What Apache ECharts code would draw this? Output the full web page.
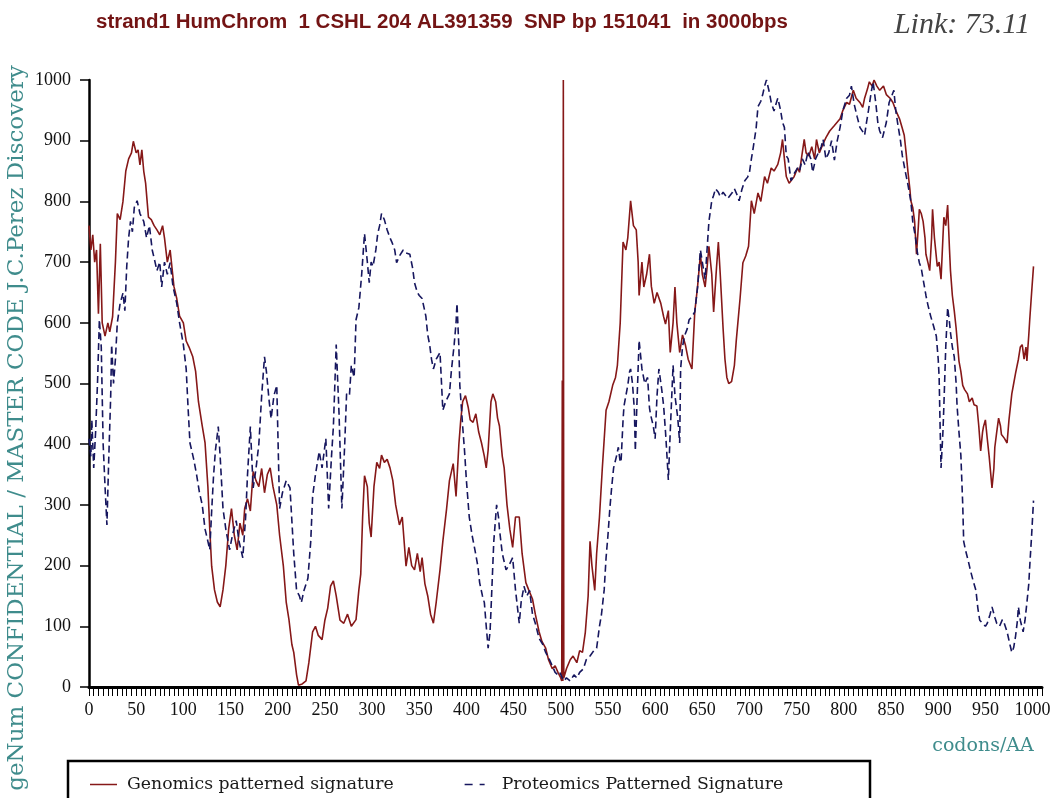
<!DOCTYPE html>
<html>
<head>
<meta charset="utf-8">
<script src="https://cdn.jsdelivr.net/npm/echarts@6/dist/echarts.min.js"></script>
<style>
  html, body { margin: 0; padding: 0; background: #ffffff; }
  #chart { width: 1058px; height: 798px; }
</style>
</head>
<body>
<div id="chart"></div>
<script>
// Codon positions and signature values for the genomic (solid) trace
const genomicsX = [0,2,4,6,8,10,12,14,17,20,22,25,28,30,33,36,39,42,45,47,50,52,54,56,58,60,63,66,69,72,75,78,80,83,86,90,93,96,100,103,106,110,113,116,120,123,126,128,130,133,136,139,142,145,148,151,154,157,160,163,165,168,171,174,177,180,183,186,189,192,195,199,202,206,209,212,215,217,220,222,226,230,233,237,240,243,247,250,253,256,259,262,266,270,274,278,283,286,288,290,292,295,297,299,302,305,308,310,313,316,319,322,325,329,332,336,339,342,345,348,351,353,356,359,362,365,368,372,375,379,382,386,389,392,394,396,399,402,404,407,410,413,416,419,421,423,426,428,431,433,435,438,440,443,446,449,452,456,459,463,466,470,473,477,480,484,487,491,494,497,500,501,501.6,502.2,502.7,503.2,506,510,513,517,520,523,526,529,531,533,536,538,541,544,548,551,555,558,560,563,566,569,571,574,577,580,582,583,586,588,591,594,596,599,602,606,609,611,614,616,619,621,623,626,629,632,635,639,642,645,648,650,653,655,657,660,662,665,667,669,672,674,676,678,681,684,686,690,693,696,699,702,705,709,712,716,719,723,726,730,733,735,737,739,742,744,747,751,753,755,758,760,763,766,769,771,774,778,781,785,790,796,799,803,806,810,813,817,820,822,825,827,830,832,835,838,842,845,849,852,855,859,862,864,866,868,870,871,873,875,877,879,880,882,884,886,887,889,891,893,894,896,899,901,903,905,906,908,910,912,913,915,917,919,922,924,926,928,931,933,936,938,941,943,945,947,948,950,952,954,957,959,960,962,964,966,967,970,973,975,978,980,982,985,987,989,991,993,994,996,997,999,1001];
const genomicsY = [760,720,745,700,720,615,730,600,578,600,585,610,700,780,770,800,850,870,880,899,880,885,860,885,850,830,774,770,760,753,745,760,740,700,720,660,640,611,600,570,560,544,520,470,430,402,330,260,199,160,140,132,160,200,260,294,250,226,270,250,294,310,290,355,340,330,360,320,350,361,330,300,250,199,140,110,70,57,20,3,5,10,40,91,100,85,78,110,130,166,175,150,110,105,120,100,111,160,186,280,348,330,270,247,330,370,360,382,370,375,361,340,300,267,280,199,230,200,193,220,190,213,170,150,120,105,140,193,240,294,340,368,314,400,440,470,480,460,440,436,450,420,402,380,361,390,470,483,470,443,430,380,361,300,260,230,280,280,220,172,160,145,120,91,75,64,45,30,35,24,15,10,505,10,1000,15,30,45,51,40,60,57,90,150,240,200,159,220,280,360,456,470,497,510,530,600,733,720,740,801,760,753,700,645,700,659,680,713,660,632,650,632,610,598,620,551,600,659,600,551,580,564,540,524,618,660,713,680,659,690,726,680,618,690,733,680,591,540,510,500,503,530,571,640,699,710,726,801,780,814,800,841,830,855,850,861,880,902,870,841,830,827,840,855,848,870,902,880,875,890,870,902,880,895,905,916,925,936,950,963,960,983,970,963,955,970,985,997,990,1000,990,983,990,976,970,963,950,936,920,909,880,848,820,801,790,767,713,760,787,780,767,740,713,700,686,740,787,740,693,700,672,740,774,760,794,720,686,645,620,591,537,520,497,490,483,470,476,465,463,430,389,420,429,440,409,380,328,360,395,420,443,430,416,410,402,440,483,500,517,540,560,564,540,560,537,580,605,650,693];

// Codon positions and signature values for the proteomic (dashed) trace
const proteomicsX = [0,2,3,5,7,9,11,13,15,17,19,21,23,24,26,28,30,33,36,38,40,42,44,46,48,51,54,58,61,64,67,70,72,75,77,80,83,86,89,93,96,100,103,105,107,111,114,117,120,123,126,128,130,132,134,137,139,142,145,149,152,156,159,163,166,168,171,174,177,180,183,186,188,191,193,196,199,202,205,209,213,217,220,223,225,228,232,235,237,240,244,247,251,254,257,259,262,265,268,271,273,276,278,281,283,286,289,292,295,297,299,301,304,306,308,310,313,316,319,321,324,326,329,333,336,340,343,345,348,350,353,357,359,361,363,365,368,372,375,378,382,384,387,389,390,392,393,396,398,400,403,406,409,412,414,417,419,421,423,425,426,429,432,434,435,438,442,445,449,452,456,458,461,464,467,470,473,477,481,484,488,491,494,497,499,503,506,510,514,517,520,524,527,531,535,538,541,543,546,548,550,552,554,556,559,561,563,564,566,567,569,571,573,574,576,578,579,581,583,585,586,589,592,594,595,598,600,602,604,607,609,611,612,614,616,619,621,624,626,627,629,631,634,636,639,642,645,648,650,653,655,657,660,662,664,667,669,672,674,677,679,682,684,687,689,692,695,698,700,702,704,707,709,712,714,716,718,721,723,726,728,730,733,735,737,739,741,744,747,751,753,756,759,762,765,767,770,773,776,778,781,784,787,790,793,796,799,803,806,808,811,814,817,820,822,824,826,829,831,834,836,838,841,843,845,848,851,853,855,857,860,862,865,868,871,873,876,878,880,882,884,887,889,892,895,898,900,901,902,903,905,906,908,910,912,913,915,917,919,920,922,924,926,927,929,931,933,934,937,940,942,944,947,950,952,955,957,960,962,965,968,970,973,976,978,980,982,984,985,987,990,992,994,996,997,999,1001];
const proteomicsY = [409,380,440,361,420,500,605,560,400,330,267,380,480,564,500,540,600,632,649,620,693,740,767,750,790,801,780,767,740,760,720,700,686,700,659,700,680,699,660,632,600,564,524,460,402,375,350,321,300,260,240,226,290,348,390,429,380,294,260,226,250,274,240,213,280,350,429,328,360,400,480,544,520,470,442,480,497,294,320,340,328,220,159,150,139,160,179,240,314,350,388,361,409,294,380,429,564,450,294,400,483,480,530,510,605,625,680,747,700,666,700,693,720,747,760,780,770,753,740,733,720,699,710,720,715,713,690,666,650,645,640,611,580,564,540,524,540,551,456,470,483,520,564,600,632,560,497,430,389,340,280,250,226,200,172,150,139,100,64,90,125,240,300,280,260,220,193,200,213,160,105,140,166,150,159,120,105,80,70,57,45,35,24,20,24,10,15,10,20,15,24,30,45,51,60,64,100,118,160,213,250,294,330,361,380,395,370,375,440,463,480,497,520,524,500,456,389,480,571,540,524,500,510,460,450,430,409,480,524,490,463,420,395,341,420,530,480,443,402,524,560,578,590,605,610,618,659,720,700,672,720,767,801,810,821,815,808,815,814,805,808,815,821,810,801,820,834,840,848,870,889,920,956,965,976,990,1000,980,963,949,960,970,950,930,922,875,870,834,845,855,850,870,860,882,870,848,870,880,890,902,870,880,900,868,900,922,950,970,975,990,960,940,922,915,909,930,949,980,997,960,930,916,905,902,930,963,975,983,950,929,900,875,850,827,800,767,740,715,699,690,672,645,630,611,595,578,540,510,430,361,420,463,560,625,600,584,560,544,500,463,420,382,300,240,225,213,200,193,175,159,130,110,105,100,105,120,132,115,105,100,111,105,91,70,57,65,84,110,132,110,91,110,139,170,199,250,307];

// Axis tick labels
const yTicks = [0,100,200,300,400,500,600,700,800,900,1000];
const xLabelStep = 50;

const seriesNames = ['Genomics patterned signature', 'Proteomics Patterned Signature'];
const titleText = 'strand1 HumChrom  1 CSHL 204 AL391359  SNP bp 151041  in 3000bps';
const linkText = 'Link: 73.11';
const yName = 'geNum CONFIDENTIAL / MASTER CODE J.C.Perez Discovery';
const xName = 'codons/AA';

const RED = '#861818';
const NAVY = '#16165e';
const TEAL = '#3f8c8c';
const SERIF = '"Liberation Serif", "DejaVu Serif", serif';
const TITLE_FONT = 'bold 20px "Liberation Sans", Arial, sans-serif';

// The heading is set in a narrow bold face: squeeze a regular bold face to the same run length
const measureCtx = document.createElement('canvas').getContext('2d');
measureCtx.font = TITLE_FONT;
const titleScaleX = 692 / measureCtx.measureText(titleText).width;

const chart = echarts.init(document.getElementById('chart'), null, { renderer: 'canvas' });

chart.setOption({
  backgroundColor: '#ffffff',
  animation: false,
  legend: {
    left: 85, top: 771,
    itemWidth: 32, itemHeight: 2, itemGap: 71,
    textStyle: { fontFamily: '"DejaVu Serif", serif', fontSize: 17.3, color: '#1a1a1a' },
    data: [
      { name: seriesNames[0], icon: 'path://M0,0H27V1.5H0Z M32,0H32.01V1.5H32Z' },
      { name: seriesNames[1], icon: 'path://M0,0H8V1.5H0Z M15,0H20V1.5H15Z M32,0H32.01V1.5H32Z' }
    ]
  },
  grid: { left: 89, right: 16, top: 80, bottom: 111, containLabel: false },
  xAxis: {
    type: 'value',
    min: 0, max: 1010, interval: 5,
    axisLine: { lineStyle: { color: '#000000', width: 3 } },
    axisTick: { show: true, inside: false, length: 9, lineStyle: { color: '#000000', width: 1 } },
    axisLabel: {
      margin: 14,
      fontFamily: SERIF, fontSize: 18, color: '#111111',
      formatter: v => (v % xLabelStep === 0 ? String(v) : '')
    },
    splitLine: { show: false }
  },
  yAxis: {
    type: 'value',
    min: yTicks[0], max: yTicks[yTicks.length - 1], interval: yTicks[1] - yTicks[0],
    axisLine: { lineStyle: { color: '#000000', width: 2.5 } },
    axisTick: { show: true, inside: false, length: 9, lineStyle: { color: '#000000', width: 1.5 } },
    axisLabel: { margin: 18, fontFamily: SERIF, fontSize: 18, color: '#111111', formatter: v => String(v) },
    splitLine: { show: false }
  },
  graphic: [
    {
      type: 'text',
      x: 96, y: 22,
      scaleX: titleScaleX,
      style: { text: titleText, fill: '#731414', font: TITLE_FONT, align: 'left', verticalAlign: 'middle' }
    },
    {
      type: 'text',
      x: 1030, y: 25,
      style: { text: linkText, fill: '#444444', font: 'italic 30px "Liberation Serif", serif', align: 'right', verticalAlign: 'middle' }
    },
    {
      type: 'text',
      x: 17, y: 428,
      rotation: Math.PI / 2,
      style: { text: yName, fill: TEAL, font: '23px "DejaVu Serif", serif', align: 'center', verticalAlign: 'middle' }
    },
    {
      type: 'text',
      x: 983, y: 746,
      style: { text: xName, fill: TEAL, font: '19px "DejaVu Serif", serif', align: 'center', verticalAlign: 'middle' }
    },
    {
      type: 'rect',
      shape: { x: 68, y: 761, width: 802, height: 60 },
      style: { fill: 'none', stroke: '#000000', lineWidth: 2.5 }
    }
  ],
  series: [
    {
      name: seriesNames[0],
      type: 'line',
      symbol: 'none',
      data: genomicsX.map((x, i) => [x, genomicsY[i]]),
      lineStyle: { color: RED, width: 1.6 },
      itemStyle: { color: RED }
    },
    {
      name: seriesNames[1],
      type: 'line',
      symbol: 'none',
      data: proteomicsX.map((x, i) => [x, proteomicsY[i]]),
      lineStyle: { color: NAVY, width: 1.6, type: [7, 4] },
      itemStyle: { color: NAVY }
    }
  ]
});
</script>
</body>
</html>
